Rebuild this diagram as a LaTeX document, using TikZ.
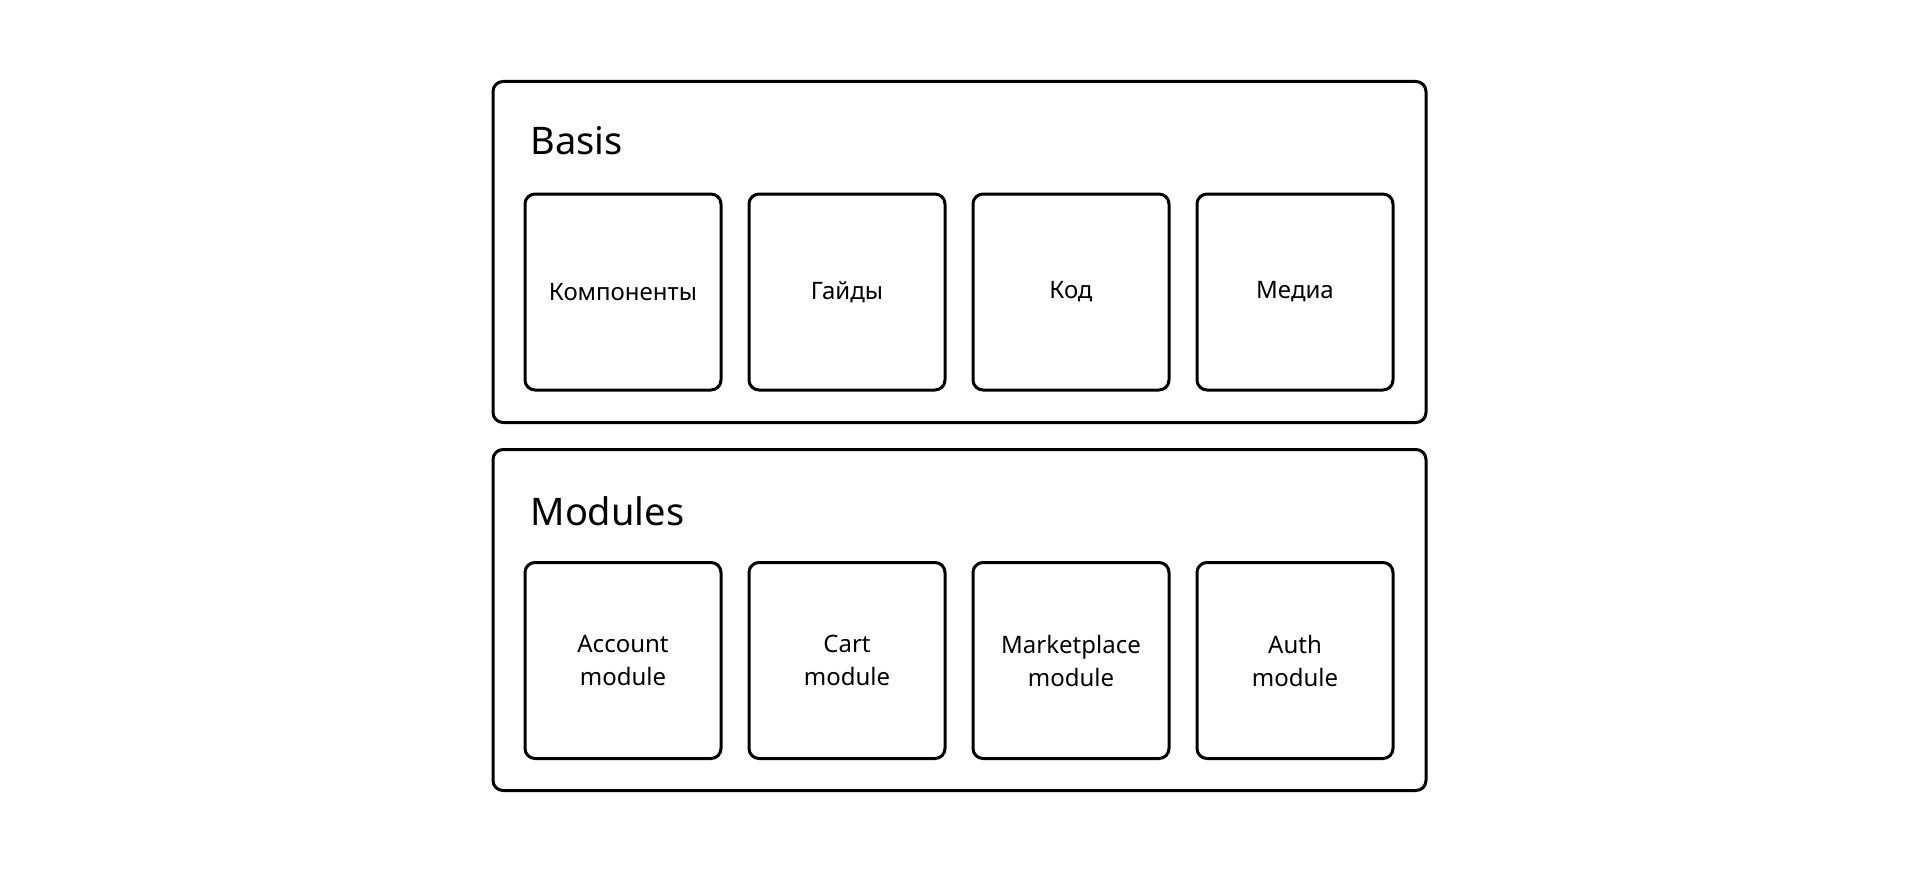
\documentclass[tikz,border=0pt]{standalone}
\usepackage{fontspec}
\setmainfont{Noto Sans}
\usepackage{tikz}

\begin{document}
\begin{tikzpicture} [
    x=1pt, y=-1pt,
    outerbox/.style = {draw, line width=3pt, rounded corners=10pt, minimum width=933pt, minimum height=341pt},
    innerbox/.style = {draw, line width=3pt, rounded corners=10pt, minimum width=196pt, minimum height=196pt,
        align=center, font=\fontsize{24}{33}\selectfont},
    title/.style = {anchor=base west, font=\fontsize{38}{44}\selectfont}
]
    \useasboundingbox (0,0) rectangle (1920,872);

    % Basis
    \node [outerbox] (basis) at (959.5,252) {};
    \node [title] (basisTitle) at (527,155) {Basis};
    \node [innerbox] (components) at (623,292) {\raisebox{-2pt}{Компоненты}};
    \node [innerbox] (guides) at (847,292) {\raisebox{-2pt}{Гайды}};
    \node [innerbox] (code) at (1071,292) {\raisebox{-2pt}{Код}};
    \node [innerbox] (media) at (1295,292) {\raisebox{-2pt}{Медиа}};

    % Modules
    \node [outerbox] (modules) at (959.5,620) {};
    \node [title] (modulesTitle) at (527,525) {Modules};
    \node [innerbox] (account) at (623,660.5) {Account\\module};
    \node [innerbox] (cart) at (847,660.5) {Cart\\module};
    \node [innerbox] (marketplace) at (1071,660.5) {Marketplace\\module};
    \node [innerbox] (auth) at (1295,660.5) {Auth\\module};
\end{tikzpicture}
\end{document}
